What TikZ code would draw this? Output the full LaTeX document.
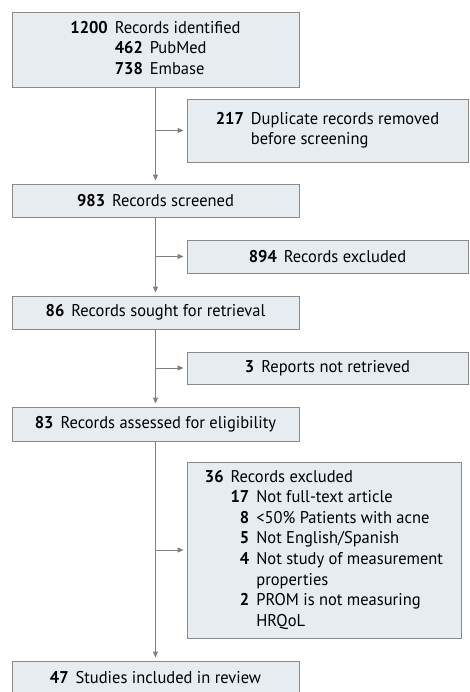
\documentclass[tikz,border=0pt]{standalone}
\usepackage{fontspec}
\setmainfont{PT Sans}[FakeStretch=0.97]
\usetikzlibrary{arrows.meta}
\definecolor{boxfill}{HTML}{E6ECF0}
\definecolor{boxline}{HTML}{8A8A8A}
\definecolor{arrcol}{HTML}{808080}
\newcommand\num[1]{\textbf{#1}}
\tikzset{
  box/.style={draw=boxline, fill=boxfill, line width=0.9pt, inner sep=0pt, align=center,
    font=\fontsize{17pt}{20.6pt}\selectfont},
  arr/.style={draw=arrcol, line width=0.9pt, -{Triangle[length=6pt,width=5pt]}},
}
\begin{document}
\begin{tikzpicture}[x=1pt,y=-1pt]
\useasboundingbox[fill=white] (0,0) rectangle (469,692);
\node[box, minimum width=287pt, minimum height=75pt] (b1) at (155.5,49.5)
  {\begin{tabular}{@{}r@{\hspace{7pt}}r@{\hspace{7pt}}l@{}}
   \num{1200} & \multicolumn{2}{@{}l@{}}{Records identified}\\
   & \num{462} & PubMed\\
   & \num{738} & Embase
   \end{tabular}};
\node[box, minimum width=281pt, minimum height=63pt] (b2) at (327.5,130.5)
  {\begin{tabular}{@{}r@{\hspace{7pt}}l@{}}
   \num{217} & Duplicate records removed\\
   & before screening
   \end{tabular}};
\node[box, minimum width=287pt, minimum height=33pt] (b3) at (155.5,200.5)
  {\num{983}\hspace{7pt}Records screened};
\node[box, minimum width=281pt, minimum height=33pt] (b4) at (327.5,256.5)
  {\num{894}\hspace{7pt}Records excluded};
\node[box, minimum width=287pt, minimum height=33pt] (b5) at (155.5,312.5)
  {\num{86}\hspace{7pt}Records sought for retrieval};
\node[box, minimum width=281pt, minimum height=32pt] (b6) at (327.5,368)
  {\num{3}\hspace{7pt}Reports not retrieved};
\node[box, minimum width=287pt, minimum height=34pt] (b7) at (155.5,424)
  {\num{83}\hspace{7pt}Records assessed for eligibility};
\node[box, minimum width=274pt, minimum height=176pt] (b8) at (324,550)
  {\begin{tabular}{@{}r@{\hspace{7pt}}r@{\hspace{7pt}}l@{}}
   \num{36} & \multicolumn{2}{@{}l@{}}{Records excluded}\\
   & \num{17} & Not full-text article\\
   & \num{8} & <50\% Patients with acne\\
   & \num{5} & Not English/Spanish\\
   & \num{4} & Not study of measurement\\
   & & properties\\
   & \num{2} & PROM is not measuring\\
   & & HRQoL
   \end{tabular}};
\node[box, minimum width=287pt, minimum height=34pt] (b9) at (155.5,678)
  {\num{47}\hspace{7pt}Studies included in review};
\foreach \a/\b in {b1/b3,b3/b5,b5/b7,b7/b9}
  \draw[arr, shorten >=3pt] (\a.south) -- (\b.north);
\foreach \a/\s in {b1/b2,b3/b4,b5/b6,b7/b8}
  \draw[arr, shorten >=3pt] (\s.west -| \a.south) -- (\s.west);
\end{tikzpicture}
\end{document}
